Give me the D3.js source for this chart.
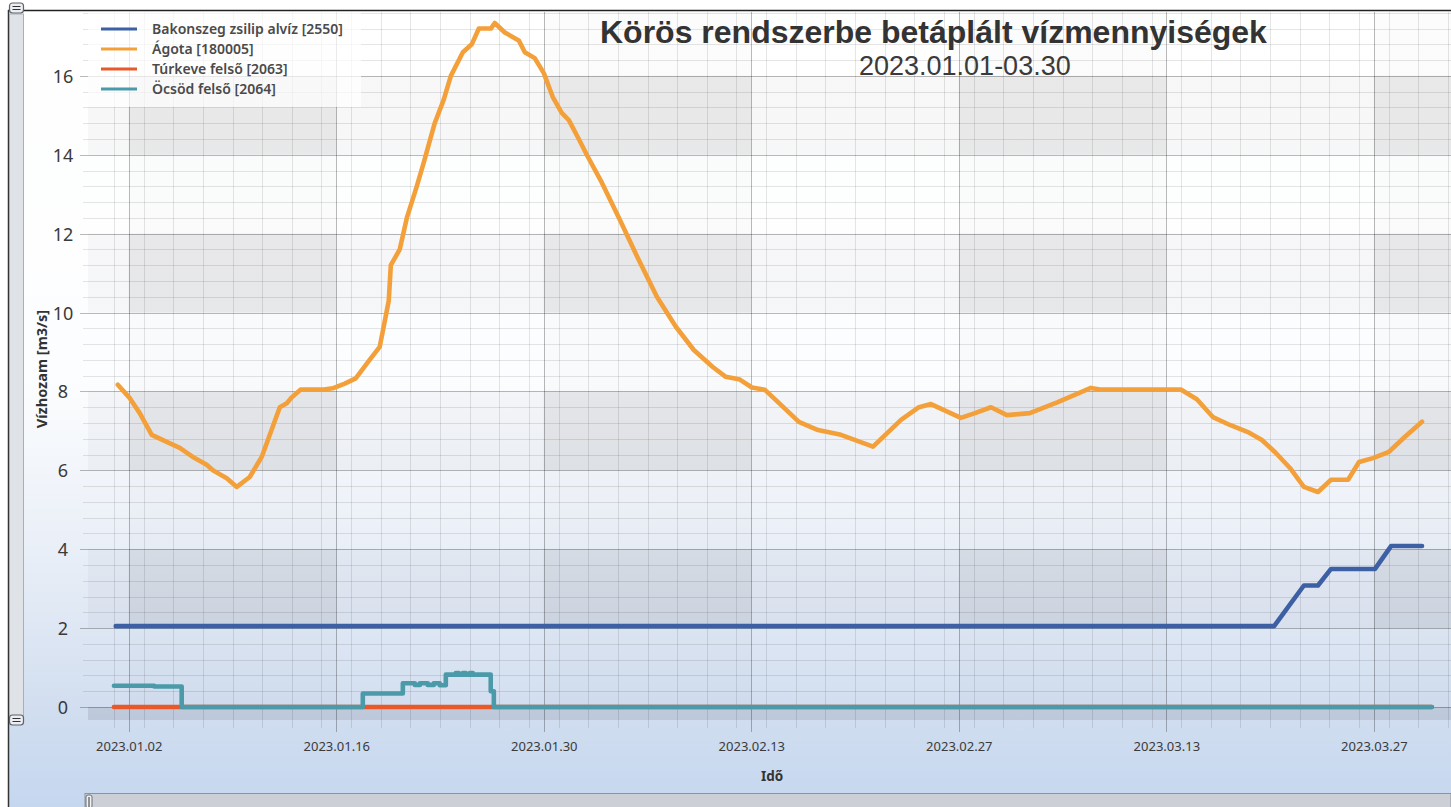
<!DOCTYPE html>
<html><head><meta charset="utf-8">
<script src="https://cdn.jsdelivr.net/npm/d3@7"></script>
<style>html,body{margin:0;padding:0;background:#fff;}svg{display:block;}</style>
</head><body>
<svg id="c" width="1451" height="807"></svg>
<script>
// ---------------- data ----------------
const chartTitle = "Körös rendszerbe betáplált vízmennyiségek";
const chartSubtitle = "2023.01.01-03.30";
const yAxisTitle = "Vízhozam [m3/s]";
const xAxisTitle = "Idő";
const seriesNames = ["Bakonszeg zsilip alvíz [2550]", "Ágota [180005]", "Túrkeve felső [2063]", "Öcsöd felső [2064]"];
const seriesColors = ["#3d60a4", "#f3a03a", "#e8582a", "#4b9aa9"];
const yTicks = [0, 2, 4, 6, 8, 10, 12, 14, 16];
const xTickDates = ["2023-01-02", "2023-01-16", "2023-01-30", "2023-02-13", "2023-02-27", "2023-03-13", "2023-03-27"];
const xTickLabels = ["2023.01.02", "2023.01.16", "2023.01.30", "2023.02.13", "2023.02.27", "2023.03.13", "2023.03.27"];

// time given as days since 2023-01-01 00:00
const bakonDay   = [0.12, 78.27, 80.28, 81.23, 82.11, 85.08, 86.16, 88.25];
const bakonValue = [2.05, 2.05, 3.08, 3.08, 3.5, 3.5, 4.08, 4.08];

const agotaDay = [0.26,1.07,1.74,2.55,3.56,4.44,5.32,6.26,6.67,7.61,8.29,9.16,9.97,11.19,11.66,12.0,12.6,14.16,14.76,15.57,16.31,17.25,17.93,18.54,18.68,19.28,19.76,20.43,20.9,21.64,22.25,22.73,23.54,24.14,24.62,25.43,25.69,26.37,27.31,27.72,28.39,29.0,29.6,30.21,30.69,31.36,31.97,32.91,34.13,35.41,36.63,37.91,39.12,40.4,41.28,42.23,43.04,43.92,44.66,46.21,47.5,49.05,51.21,53.1,54.31,55.12,57.14,58.09,59.17,60.24,61.79,63.68,65.91,66.52,71.98,73.06,74.14,75.29,76.5,77.45,78.39,79.34,80.28,81.23,82.11,83.26,84.0,84.94,86.02,87.1,88.25];
const agotaValue = [8.17,7.83,7.45,6.9,6.72,6.57,6.34,6.14,6.0,5.8,5.58,5.83,6.34,7.6,7.7,7.85,8.05,8.05,8.08,8.2,8.33,8.8,9.13,10.3,11.2,11.6,12.4,13.2,13.8,14.8,15.4,16.0,16.6,16.8,17.2,17.2,17.34,17.1,16.9,16.6,16.45,16.07,15.47,15.06,14.88,14.4,13.95,13.3,12.35,11.33,10.4,9.64,9.05,8.62,8.37,8.3,8.1,8.04,7.78,7.23,7.02,6.9,6.6,7.28,7.6,7.68,7.33,7.45,7.6,7.4,7.45,7.73,8.09,8.05,8.05,7.8,7.35,7.15,6.97,6.77,6.44,6.06,5.58,5.45,5.76,5.76,6.21,6.31,6.47,6.85,7.23];

const turkeveDay   = [0.0, 88.9];
const turkeveValue = [0, 0];

const ocsodDay   = [0.0, 2.72, 4.57, 16.79, 19.49, 20.30, 20.64, 21.17, 21.58, 21.98, 22.39, 23.06, 23.27, 23.54, 23.74, 24.01, 24.21, 25.42, 25.63, 88.92];
const ocsodValue = [0.54, 0.52, 0.0, 0.34, 0.6, 0.56, 0.6, 0.56, 0.6, 0.55, 0.82, 0.86, 0.82, 0.86, 0.82, 0.86, 0.82, 0.4, 0.0, 0.0];

// ---------------- chart ----------------
const DAY = 864e5;
const t0 = Date.UTC(2023, 0, 1);
const toDate = d => new Date(t0 + d * DAY);
const svg = d3.select("#c");
const W = 1451, H = 807;
const P = {left: 88, right: 1451, top: 12, bottom: 720};
const pxPerDay = 1347 / 90.875;
const domStart = new Date(Date.UTC(2022, 11, 30, 6));
const domEnd = new Date(domStart.getTime() + (P.right - P.left) / pxPerDay * DAY);
const x = d3.scaleUtc().domain([domStart, domEnd]).range([P.left, P.right]);
const y = d3.scaleLinear().domain([-0.33, 17.62]).range([P.bottom, P.top]);

const defs = svg.append("defs");
const bg = defs.append("linearGradient").attr("id", "bg").attr("gradientUnits", "userSpaceOnUse")
  .attr("x1", 0).attr("y1", 0).attr("x2", 0).attr("y2", H);
[[0, "#ffffff"], [380 / H, "#fcfdfe"], [560 / H, "#e8eef7"], [720 / H, "#d0ddef"], [1, "#c5d7ef"]]
  .forEach(([o, c]) => bg.append("stop").attr("offset", o).attr("stop-color", c));
defs.append("clipPath").attr("id", "clip").append("rect")
  .attr("x", P.left).attr("y", P.top).attr("width", P.right - P.left).attr("height", P.bottom - P.top);

svg.append("rect").attr("width", W).attr("height", H).attr("fill", "#fff");
svg.append("rect").attr("x", 8).attr("y", 10).attr("width", W - 8).attr("height", H - 10).attr("fill", "url(#bg)");

// checkerboard cells
const jan2 = new Date(Date.UTC(2023, 0, 2));
const colEdges = d3.range(-1, 8).map(k => d3.utcDay.offset(jan2, 14 * k));
const cells = svg.append("g").attr("clip-path", "url(#clip)");
for (let k = 0; k < colEdges.length - 1; k++) {
  const colGray = (k % 2) === 1; // Jan2-Jan16 etc.
  for (let j = 0; j <= 8; j++) {
    const rowGray = Math.abs(j % 2) === 1;
    let op = 0;
    if (rowGray && colGray) op = 0.115;
    else if (rowGray) op = 0.035;
    else if (colGray) op = 0.015;
    if (!op) continue;
    const x0 = x(colEdges[k]), x1 = x(colEdges[k + 1]);
    const y0 = y(2 * j + 2), y1 = y(2 * j);
    cells.append("rect").attr("x", x0).attr("y", y0).attr("width", x1 - x0).attr("height", y1 - y0)
      .attr("fill", "#3a3f4a").attr("opacity", op);
  }
}
// strip below zero
cells.append("rect").attr("x", P.left).attr("y", y(0)).attr("width", P.right - P.left).attr("height", P.bottom - y(0))
  .attr("fill", "#3a3f4a").attr("opacity", 0.13);

// grid
const grid = svg.append("g");
const minorY = d3.range(-0, 18, 0.4).map(v => +v.toFixed(1)).filter(v => Math.abs(v / 2 - Math.round(v / 2)) > 1e-6 && v < 17.62);
grid.selectAll(".my").data(minorY).join("line")
  .attr("x1", P.left - 5).attr("x2", P.right).attr("y1", d => Math.round(y(d)) + 0.5).attr("y2", d => Math.round(y(d)) + 0.5)
  .attr("stroke", "#000").attr("stroke-opacity", 0.1);
const minorX = d3.range(-3, 92, 2).map(k => d3.utcDay.offset(jan2, k)).filter(d => d > domStart && d < domEnd);
grid.selectAll(".mx").data(minorX).join("line")
  .attr("x1", d => Math.round(x(d)) + 0.5).attr("x2", d => Math.round(x(d)) + 0.5).attr("y1", P.top).attr("y2", P.bottom + 8)
  .attr("stroke", "#000").attr("stroke-opacity", 0.1);
grid.selectAll(".My").data(yTicks).join("line")
  .attr("x1", P.left - 8).attr("x2", P.right).attr("y1", d => Math.round(y(d)) + 0.5).attr("y2", d => Math.round(y(d)) + 0.5)
  .attr("stroke", "#000").attr("stroke-opacity", 0.27);
const majorX = xTickDates.map(s => new Date(s + "T00:00:00Z"));
grid.selectAll(".Mx").data(majorX).join("line")
  .attr("x1", d => Math.round(x(d)) + 0.5).attr("x2", d => Math.round(x(d)) + 0.5).attr("y1", P.top).attr("y2", P.bottom + 12)
  .attr("stroke", "#000").attr("stroke-opacity", 0.27);

// legend background
svg.append("rect").attr("x", P.left).attr("y", P.top).attr("width", 273).attr("height", 95)
  .attr("fill", "#fff").attr("opacity", 0.7);

// axes labels via d3 axes
const xAxis = d3.axisBottom(x).tickValues(majorX).tickFormat((d, i) => xTickLabels[i]).tickSize(0).tickPadding(0);
const gx = svg.append("g").attr("transform", `translate(0,${P.bottom})`).call(xAxis);
gx.select(".domain").remove();
gx.selectAll("text").attr("y", 31).attr("dy", 0).attr("font-family", "Noto Sans, sans-serif").attr("font-size", 13).attr("fill", "#3a3a3a");

const yAxis = d3.axisLeft(y).tickValues(yTicks).tickSize(0);
const gy = svg.append("g").attr("transform", `translate(${P.left},0)`).call(yAxis);
gy.select(".domain").remove();
gy.selectAll("text").attr("x", 63 - P.left).attr("dy", "0.36em").attr("text-anchor", "middle")
  .attr("font-family", "Noto Sans, sans-serif").attr("font-size", 18).attr("fill", "#3a3a3a");

// series
const lines = svg.append("g").attr("clip-path", "url(#clip)");
const mk = (days, vals) => days.map((d, i) => ({t: toDate(d), v: vals[i]}));
const lineLin = d3.line().x(d => x(d.t)).y(d => y(d.v));
const lineStep = d3.line().x(d => x(d.t)).y(d => y(d.v)).curve(d3.curveStepAfter);
const series = [
  {data: mk(bakonDay, bakonValue), gen: lineLin, color: seriesColors[0]},
  {data: mk(agotaDay, agotaValue), gen: lineLin, color: seriesColors[1]},
  {data: mk(turkeveDay, turkeveValue), gen: lineLin, color: seriesColors[2]},
  {data: mk(ocsodDay, ocsodValue), gen: lineStep, color: seriesColors[3]}
];
series.forEach(s => lines.append("path").attr("d", s.gen(s.data)).attr("fill", "none")
  .attr("stroke", s.color).attr("stroke-width", 4.6).attr("stroke-linejoin", "round").attr("stroke-linecap", "round"));

// legend
const lg = svg.append("g");
seriesNames.forEach((n, i) => {
  const cy = 29 + i * 20;
  lg.append("line").attr("x1", 101).attr("x2", 137).attr("y1", cy).attr("y2", cy)
    .attr("stroke", seriesColors[i]).attr("stroke-width", 3);
  lg.append("text").attr("x", 152).attr("y", cy).attr("dy", "0.35em").text(n)
    .attr("font-family", "Noto Sans, sans-serif").attr("font-size", 14).attr("font-weight", 600).attr("fill", "#4a4a4a");
});

// titles
svg.append("text").attr("x", 600).attr("y", 43).text(chartTitle)
  .attr("font-family", "Liberation Sans, Arial, sans-serif").attr("font-weight", "bold").attr("font-size", 32).attr("fill", "#333");
svg.append("text").attr("x", 859).attr("y", 75).text(chartSubtitle)
  .attr("font-family", "Liberation Sans, Arial, sans-serif").attr("font-size", 27).attr("fill", "#3a3a3a");
svg.append("text").attr("transform", "translate(47,369) rotate(-90)").attr("text-anchor", "middle").text(yAxisTitle)
  .attr("font-family", "Noto Sans, sans-serif").attr("font-weight", 700).attr("font-size", 14.5).attr("fill", "#333");
svg.append("text").attr("x", 772).attr("y", 781).attr("text-anchor", "middle").text(xAxisTitle)
  .attr("font-family", "Noto Sans, sans-serif").attr("font-weight", 700).attr("font-size", 13.5).attr("fill", "#333");

// frame + scrollbars
svg.append("line").attr("x1", 8).attr("x2", W).attr("y1", 10.5).attr("y2", 10.5).attr("stroke", "#222").attr("stroke-width", 1.5);
svg.append("line").attr("x1", 8.5).attr("x2", 8.5).attr("y1", 10).attr("y2", H).attr("stroke", "#333").attr("stroke-width", 1.5);
svg.append("rect").attr("x", 9.5).attr("y", 14).attr("width", 14).attr("height", 702).attr("fill", "#dfe2e7").attr("stroke", "#a9afb8");
function handle(cx, cy) {
  const g = svg.append("g");
  g.append("rect").attr("x", cx - 7).attr("y", cy - 5).attr("width", 14).attr("height", 10).attr("rx", 3)
    .attr("fill", "#eceef1").attr("stroke", "#5d636c").attr("stroke-width", 1.2);
  g.append("line").attr("x1", cx - 4).attr("x2", cx + 4).attr("y1", cy - 1.5).attr("y2", cy - 1.5).attr("stroke", "#333");
  g.append("line").attr("x1", cx - 4).attr("x2", cx + 4).attr("y1", cy + 1.5).attr("y2", cy + 1.5).attr("stroke", "#333");
}
handle(16.5, 8);
handle(16.5, 720);
svg.append("rect").attr("x", 85).attr("y", 793.5).attr("width", W - 85).attr("height", 14).attr("fill", "#ccd0d6").attr("stroke", "#8d939c");
svg.append("rect").attr("x", 86).attr("y", 795).attr("width", 6).attr("height", 13).attr("rx", 2).attr("fill", "#f0f1f3").attr("stroke", "#6a7079");
svg.append("line").attr("x1", 89).attr("x2", 89).attr("y1", 797).attr("y2", 807).attr("stroke", "#333");
</script>
</body></html>
